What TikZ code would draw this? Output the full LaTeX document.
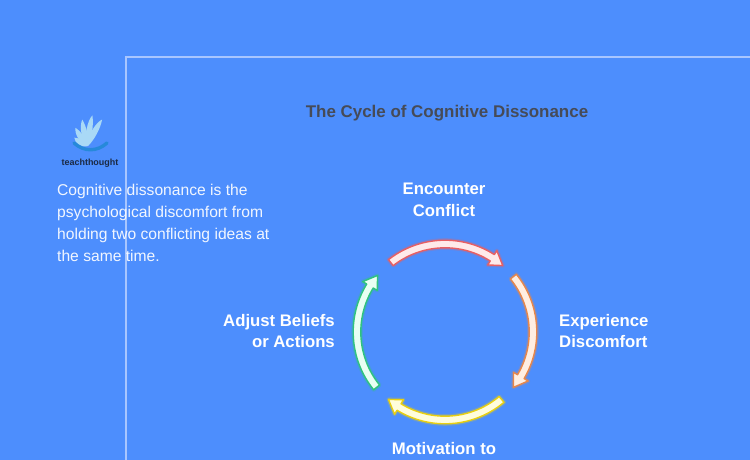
\documentclass[tikz,border=0pt]{standalone}
\usepackage{fontspec}
\setmainfont{Liberation Sans}
\definecolor{bgblue}{HTML}{4D8EFD}
\definecolor{framec}{HTML}{A8C6FF}
\definecolor{titlec}{HTML}{464B57}
\definecolor{redl}{HTML}{E85F63}\definecolor{redf}{HTML}{FFEAEA}
\definecolor{orgl}{HTML}{E8874A}\definecolor{orgf}{HTML}{FFEEE2}
\definecolor{yell}{HTML}{EAD010}\definecolor{yelf}{HTML}{FFFDDC}
\definecolor{grnl}{HTML}{2FC47E}\definecolor{grnf}{HTML}{E8FFF3}
\definecolor{leafc}{HTML}{A9D9F6}
\definecolor{ribbonc}{HTML}{2689DA}
\definecolor{logotext}{HTML}{1B2A44}
\newcommand\cycarrow[4]{%
  \pgfmathsetmacro\hb{#2+8.5}%
  \draw[line width=4pt,draw=#3,opacity=.25,line join=round]
    (#1:91.8) arc[start angle=#1, end angle=\hb, radius=91.8] -- (\hb:96.5) -- (#2:88) -- (\hb:79.5) -- (\hb:84.2) arc[start angle=\hb, end angle=#1, radius=84.2] -- cycle;
  \draw[line width=1.4pt,draw=#3,fill=#4,line join=round]
    (#1:91.8) arc[start angle=#1, end angle=\hb, radius=91.8] -- (\hb:96.5) -- (#2:88) -- (\hb:79.5) -- (\hb:84.2) arc[start angle=\hb, end angle=#1, radius=84.2] -- cycle;
}
\tikzset{
  desc/.style={anchor=base west, inner sep=0pt, text=white!92!bgblue, font=\fontsize{15.7}{18}\selectfont},
  lbl/.style={inner sep=0pt, text=white, font=\bfseries\fontsize{16.8}{20}\selectfont},
  leaf/.style={fill=leafc},
}
\begin{document}
\begin{tikzpicture}[x=1bp,y=1bp]
\useasboundingbox (0,0) rectangle (750,460);
\fill[bgblue] (0,0) rectangle (750,460);
% frame
\draw[framec, line width=1.2bp] (126,0) -- (126,403) -- (750,403);
% title
\node[inner sep=0pt, anchor=base, text=titlec, font=\bfseries\fontsize{17}{20}\selectfont] (title) at (447,342) {The Cycle of Cognitive Dissonance};
% logo
\foreach \a/\l in {145/16,122/22,100/27,80/31,60/30}{
  \fill[leaf, rotate around={\a:(88,314)}] (88,314) .. controls (88+0.3*\l,320) and (88+0.8*\l,319) .. (88+\l,315) .. controls (88+0.7*\l,312) and (88+0.3*\l,311.5) .. cycle;
}
\draw[ribbonc, line width=3.4bp, line cap=round] (74,317) .. controls (84,308) and (97,308) .. (107,317);
\node[inner sep=0pt, anchor=base, text=logotext, font=\bfseries\fontsize{9}{10}\selectfont] (logo) at (90,294) {teachthought};
% description
\node[desc] (d1) at (57,264) {Cognitive dissonance is the};
\node[desc] (d2) at (57,242) {psychological discomfort from};
\node[desc] (d3) at (57,220) {holding two conflicting ideas at};
\node[desc] (d4) at (57,198) {the same time.};
% cycle arrows
\begin{scope}[shift={(445,128)}]
\cycarrow{128}{49}{redl}{redf}
\cycarrow{39}{-39}{orgl}{orgf}
\cycarrow{-50}{-130}{yell}{yelf}
\cycarrow{-141}{-220}{grnl}{grnf}
\end{scope}
% labels
\node[lbl, anchor=base] (enc1) at (444,265) {Encounter};
\node[lbl, anchor=base] (enc2) at (444,243.5) {Conflict};
\node[lbl, anchor=base west] (exp1) at (559,133.5) {Experience};
\node[lbl, anchor=base west] (exp2) at (559,112) {Discomfort};
\node[lbl, anchor=base east] (adj1) at (335,133.5) {Adjust Beliefs};
\node[lbl, anchor=base east] (adj2) at (335,112) {or Actions};
\node[lbl, anchor=base] (mot1) at (444,5) {Motivation to};
\end{tikzpicture}
\end{document}
